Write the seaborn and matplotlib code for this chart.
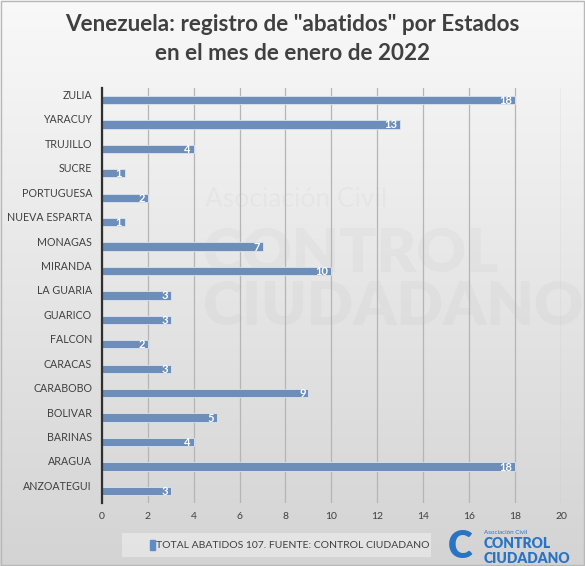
import numpy as np
import pandas as pd
import matplotlib.pyplot as plt
import seaborn as sns
from matplotlib import transforms

sns.set_style("white")
plt.rcParams['font.family'] = ['Lato', 'DejaVu Sans']

# data, top to bottom as in the reference
estados = ['ZULIA', 'YARACUY', 'TRUJILLO', 'SUCRE', 'PORTUGUESA', 'NUEVA ESPARTA',
           'MONAGAS', 'MIRANDA', 'LA GUARIA', 'GUARICO', 'FALCON', 'CARACAS',
           'CARABOBO', 'BOLIVAR', 'BARINAS', 'ARAGUA', 'ANZOATEGUI']
abatidos = [18, 13, 4, 1, 2, 1, 7, 10, 3, 3, 2, 3, 9, 5, 4, 18, 3]
x_ticks = [0, 2, 4, 6, 8, 10, 12, 14, 16, 18, 20]

df = pd.DataFrame({'estado': estados, 'abatidos': abatidos})

fig = plt.figure(figsize=(5.85, 5.66), dpi=100)

# gradient background
bg = fig.add_axes([0, 0, 1, 1], zorder=-10)
grad = np.linspace(0.975, 0.83, 256).reshape(-1, 1)
bg.imshow(np.dstack([grad, grad, grad]), aspect='auto', extent=[0, 1, 0, 1])
bg.set_xlim(0, 1)
bg.set_ylim(0, 1)
bg.axis('off')
bg.add_patch(plt.Rectangle((0.002, 0.002), 0.996, 0.996, fill=False,
                           edgecolor='#b8b8b8', lw=1))

# faint watermark
bg.text(0.35, 0.635, 'Asociación Civil', fontsize=19, color='#000000', alpha=0.022)
bg.text(0.345, 0.52, 'CONTROL', fontsize=44, fontweight='heavy', color='#000000', alpha=0.022)
bg.text(0.345, 0.425, 'CIUDADANO', fontsize=44, fontweight='heavy', color='#000000', alpha=0.022)

ax = fig.add_axes([0.174, 0.111, 0.785, 0.734])
ax.patch.set_alpha(0)
sns.barplot(data=df, x='abatidos', y='estado', order=estados, color='#5f8cc6',
            width=0.34, edgecolor='#dbe4f0', linewidth=0.6, ax=ax)

ax.set_xlim(0, 20)
ax.set_ylim(len(estados) - 0.5, -0.5)
ax.set_xticks(x_ticks)
ax.set_xticklabels([str(t) for t in x_ticks], fontsize=7.5, color='#404040')
ax.set_xlabel('')
ax.set_ylabel('')
ax.grid(axis='x', color='#b5b5b5', lw=0.9)
ax.set_axisbelow(True)
for s in ['top', 'right', 'bottom']:
    ax.spines[s].set_visible(False)
ax.spines['left'].set_color('#303030')
ax.spines['left'].set_linewidth(1.6)
ax.tick_params(axis='both', length=0, pad=6)
ax.tick_params(axis='y', pad=7)

# y labels sit a bit above the bars
off = transforms.ScaledTranslation(0, 4 / 72, fig.dpi_scale_trans)
for lbl in ax.get_yticklabels():
    lbl.set_fontsize(7.7)
    lbl.set_color('#404040')
    lbl.set_transform(lbl.get_transform() + off)

for i, v in enumerate(abatidos):
    ax.text(v - 0.12, i + 0.02, str(v), ha='right', va='center', fontsize=8,
            fontweight='bold', color='white')

fig.text(0.5, 0.957, 'Venezuela: registro de "abatidos" por Estados',
         ha='center', va='center', fontsize=16.2, fontweight='bold', color='#404040')
fig.text(0.5, 0.905, 'en el mes de enero de 2022',
         ha='center', va='center', fontsize=16.2, fontweight='bold', color='#404040')

# legend box
leg = fig.add_axes([0.209, 0.016, 0.527, 0.042])
leg.set_facecolor('#e8e8e8')
leg.patch.set_alpha(0.8)
leg.set_xticks([])
leg.set_yticks([])
for s in leg.spines.values():
    s.set_visible(False)
leg.add_patch(plt.Rectangle((0.09, 0.3), 0.015, 0.4, color='#5f8cc6'))
leg.text(0.11, 0.5, 'TOTAL ABATIDOS 107. FUENTE: CONTROL CIUDADANO', va='center',
         fontsize=7.5, color='#404040')
leg.set_xlim(0, 1)
leg.set_ylim(0, 1)

# logo
logo = fig.add_axes([0.76, 0.0, 0.24, 0.075])
logo.axis('off')
logo.set_xlim(0, 1)
logo.set_ylim(0, 1)
logo.text(0.02, 0.45, 'C', fontsize=27, fontweight='heavy', color='#2a74c4', va='center')
logo.text(0.28, 0.8, 'Asociación Civil', fontsize=4.5, color='#2a74c4', va='center')
logo.text(0.28, 0.52, 'CONTROL', fontsize=10, fontweight='heavy', color='#2a74c4', va='center')
logo.text(0.28, 0.17, 'CIUDADANO', fontsize=10, fontweight='heavy', color='#2a74c4', va='center')

fig.savefig('out.png', dpi=100)
